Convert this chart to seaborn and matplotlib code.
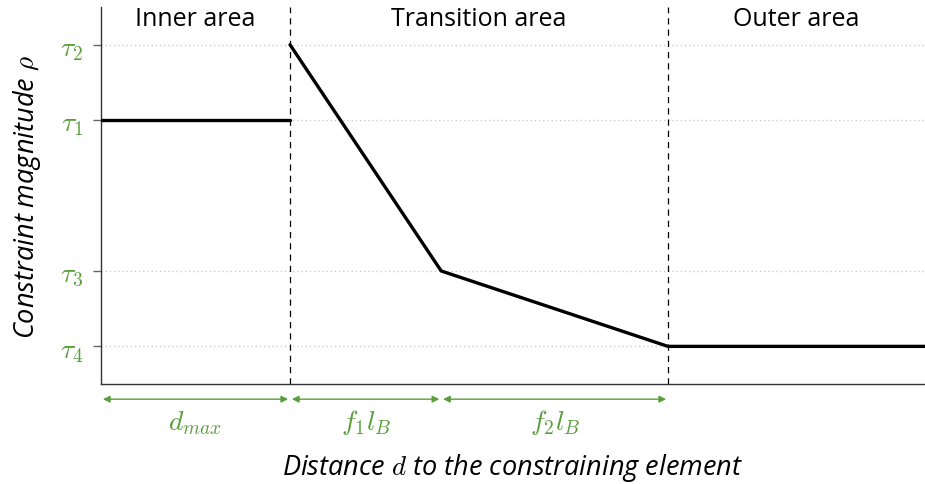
import numpy as np
import matplotlib
matplotlib.use("Agg")
import matplotlib.pyplot as plt
import matplotlib.transforms as mtransforms
import pandas as pd
import seaborn as sns

# Valori
d_max = 1.0
f1_lB = 0.8
f2_lB = 1.2
x_end = 4.36

tau_names = [r"$\tau_1$", r"$\tau_2$", r"$\tau_3$", r"$\tau_4$"]
tau_values = [4.0, 5.0, 2.0, 1.0]

region_names = ["Inner area", "Transition area", "Outer area"]
span_names = [r"$d_{max}$", r"$f_1 l_B$", r"$f_2 l_B$"]

# Punti di rottura
x1 = d_max
x2 = d_max + f1_lB
x3 = d_max + f1_lB + f2_lB
tau1, tau2, tau3, tau4 = tau_values

seg_x = [0, x1, x1, x2, x3, x_end]
seg_y = [tau1, tau1, tau2, tau3, tau4, tau4]
seg_id = [0, 0, 1, 1, 1, 1]
df = pd.DataFrame({"d": seg_x, "rho": seg_y, "seg": seg_id})

sns.set_style("white")
plt.rcParams["font.family"] = ["Open Sans", "DejaVu Sans"]
plt.rcParams["mathtext.fontset"] = "cm"
plt.rcParams["text.color"] = "black"
plt.rcParams["axes.labelcolor"] = "black"

green = "#5a9e3c"

fig = plt.figure(figsize=(9.25, 4.85), dpi=100)
ax = fig.add_axes([0.1092, 0.206, 0.8908, 0.7775])

# griglia orizzontale
for t in tau_values:
    ax.axhline(t, color="#cccccc", lw=1.0, ls=(0, (1, 2)), zorder=0)

# linee tratteggiate dei confini
for xb in [x1, x3]:
    ax.axvline(xb, color="black", lw=0.9, ls=(0, (5, 4)), zorder=1)

sns.lineplot(data=df, x="d", y="rho", units="seg", estimator=None, sort=False,
             color="black", lw=2.4, ax=ax, zorder=3)

ax.set_xlim(0, x_end)
ax.set_ylim(0.5, 5.5)

ax.set_yticks(tau_values)
ax.set_yticklabels(tau_names, color=green, fontsize=20)
ax.tick_params(axis="y", left=True, length=6, width=1, color="#666666", pad=7)
ax.set_xticks([])

for s in ["top", "right"]:
    ax.spines[s].set_visible(False)
for s in ["left", "bottom"]:
    ax.spines[s].set_color("#333333")
    ax.spines[s].set_linewidth(1.0)

# etichette delle aree
bounds = [0, x1, x3, x_end]
for i, name in enumerate(region_names):
    ax.text((bounds[i] + bounds[i + 1]) / 2, 5.35, name, ha="center", va="center",
            fontsize=18, color="black")

# frecce delle distanze sotto l'asse
trans = mtransforms.blended_transform_factory(ax.transData, ax.transAxes)
arrow_edges = [0, x1, x2, x3]
for i, lab in enumerate(span_names):
    a, b = arrow_edges[i], arrow_edges[i + 1]
    ax.annotate("", xy=(b - 0.01, -0.04), xytext=(a + 0.01, -0.04),
                xycoords=trans, textcoords=trans,
                arrowprops=dict(arrowstyle="<|-|>", color=green, lw=1.0,
                                mutation_scale=10, shrinkA=0, shrinkB=0),
                annotation_clip=False)
    ax.text((a + b) / 2, -0.10, lab, transform=trans, ha="center", va="center",
            color=green, fontsize=20)

ax.set_xlabel(r"Distance $d$ to the constraining element", fontsize=19.5,
              style="italic", labelpad=48, color="black")
ax.set_ylabel(r"Constraint magnitude $\rho$", fontsize=19.5, style="italic",
              labelpad=12, color="black")

fig.savefig("out.png", dpi=100)
